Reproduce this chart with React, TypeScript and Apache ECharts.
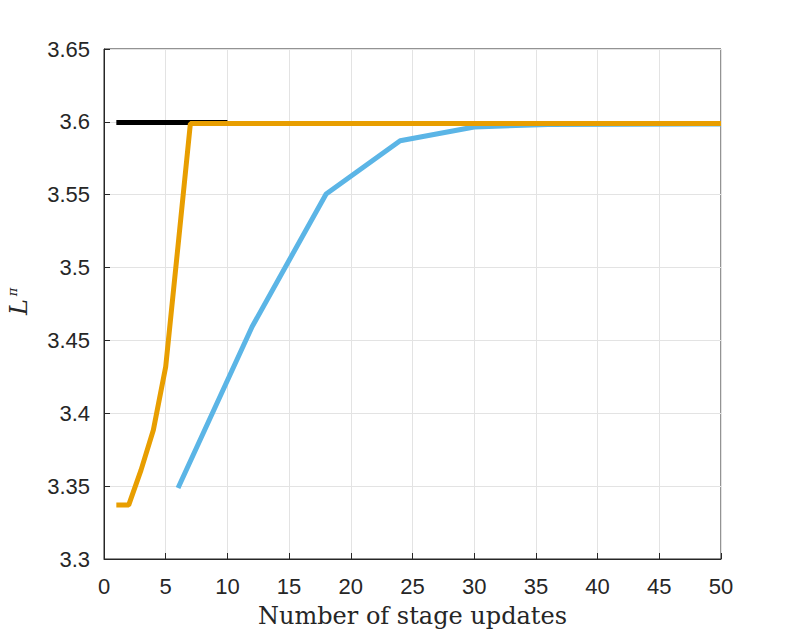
import React, { useEffect, useRef } from "react";
import * as echarts from "echarts";

const xTicks = [0, 5, 10, 15, 20, 25, 30, 35, 40, 45, 50];
const yTicks = [3.3, 3.35, 3.4, 3.45, 3.5, 3.55, 3.6, 3.65];

const blackX = [1, 10];
const blackY = [3.5995, 3.5995];

const orangeX = [1, 2, 3, 4, 5, 6, 7, 50];
const orangeY = [3.337, 3.337, 3.361, 3.3885, 3.432, 3.515, 3.5988, 3.5988];

const blueX = [6, 12, 18, 24, 30, 36, 42, 48, 50];
const blueY = [3.3487, 3.4594, 3.5505, 3.587, 3.5965, 3.5982, 3.5984, 3.5985, 3.5985];

const zip = (xs: number[], ys: number[]) => xs.map((x, i) => [x, ys[i]]);

export default function App() {
  const ref = useRef<HTMLDivElement>(null);
  useEffect(() => {
    if (!ref.current) return;
    const chart = echarts.init(ref.current, null, { renderer: "svg" });
    const tickFont = {
      fontFamily: "Liberation Sans, Arial, sans-serif",
      fontSize: 22,
      color: "#262626",
    };
    chart.setOption({
      animation: false,
      backgroundColor: "#ffffff",
      grid: {
        left: 104,
        right: 76,
        top: 49,
        bottom: 78,
        show: true,
        borderColor: "#262626",
        borderWidth: 1,
        backgroundColor: "transparent",
        outerBoundsMode: "none",
        containLabel: false,
      },
      graphic: [
        {
          type: "text",
          x: 19,
          y: 307,
          rotation: Math.PI / 2,
          style: {
            text: "L",
            fontFamily: "DejaVu Serif, Liberation Serif, serif",
            fontStyle: "italic",
            fontSize: 24,
            fill: "#262626",
            align: "center",
            verticalAlign: "middle",
          },
        },
        {
          type: "text",
          x: 12,
          y: 292,
          rotation: Math.PI / 2,
          style: {
            text: "π",
            fontFamily: "DejaVu Serif, Liberation Serif, serif",
            fontStyle: "italic",
            fontSize: 13,
            fill: "#262626",
            align: "center",
            verticalAlign: "middle",
          },
        },
      ],
      xAxis: {
        type: "value",
        min: 0,
        max: 50,
        interval: 5,
        name: "Number of stage updates",
        nameLocation: "middle",
        nameGap: 45,
        nameTextStyle: {
          fontFamily: "DejaVu Serif, Liberation Serif, serif",
          fontSize: 24,
          color: "#262626",
        },
        axisLine: { show: true, lineStyle: { color: "#262626", width: 1 } },
        axisTick: { show: true, inside: true, length: 6, lineStyle: { color: "#262626" } },
        axisLabel: {
          ...tickFont,
          margin: 16,
          formatter: (v: number) => (xTicks.includes(v) ? String(v) : ""),
        },
        splitLine: { show: true, lineStyle: { color: "#e3e3e3", width: 1 } },
      },
      yAxis: {
        type: "value",
        min: 3.3,
        max: 3.65,
        interval: 0.05,
        axisLine: { show: true, lineStyle: { color: "#262626", width: 1 } },
        axisTick: { show: true, inside: true, length: 6, lineStyle: { color: "#262626" } },
        axisLabel: {
          ...tickFont,
          margin: 14,
          formatter: (v: number) => {
            const found = yTicks.find((t) => Math.abs(t - v) < 1e-6);
            return found !== undefined ? String(found) : "";
          },
        },
        splitLine: { show: true, lineStyle: { color: "#e3e3e3", width: 1 } },
      },
      series: [
        {
          type: "line",
          data: zip(blackX, blackY),
          showSymbol: false,
          lineStyle: { color: "#000000", width: 5 },
          z: 2,
        },
        {
          type: "line",
          data: zip(blueX, blueY),
          showSymbol: false,
          lineStyle: { color: "#5bb5e6", width: 5 },
          z: 3,
        },
        {
          type: "line",
          data: zip(orangeX, orangeY),
          showSymbol: false,
          lineStyle: { color: "#e89e00", width: 5 },
          z: 4,
        },
      ],
    });
    return () => chart.dispose();
  }, []);
  return <div ref={ref} style={{ width: 797, height: 637, position: "absolute", left: 0, top: 0 }} />;
}
